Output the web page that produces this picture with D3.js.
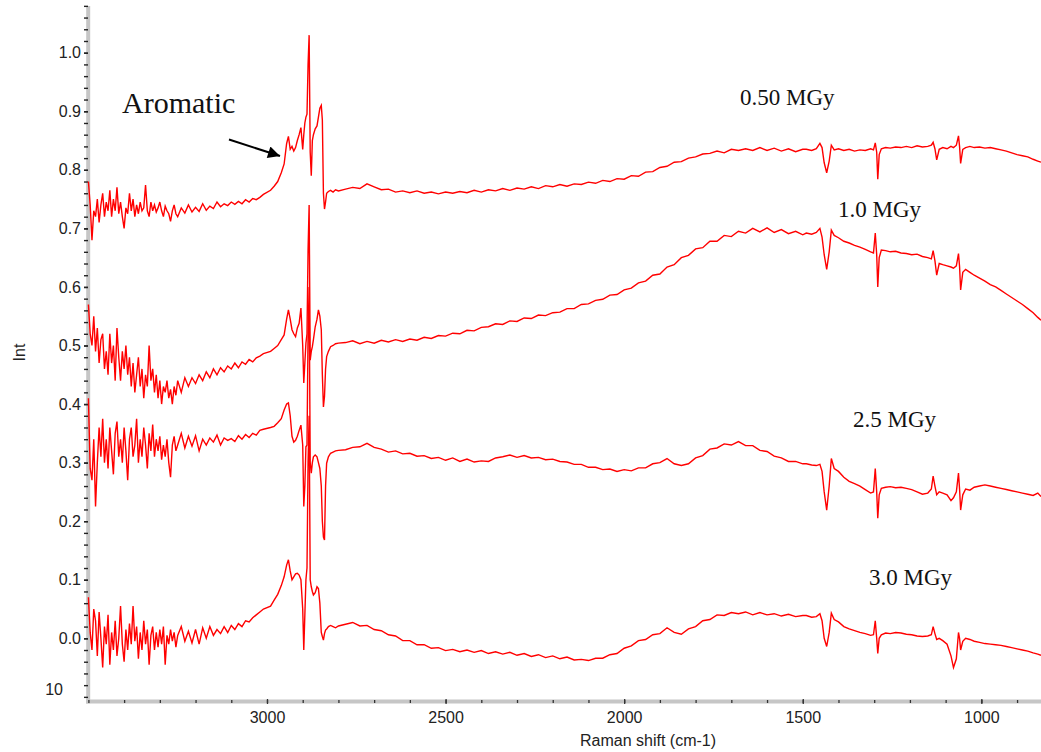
<!DOCTYPE html>
<html><head><meta charset="utf-8">
<script src="https://cdn.jsdelivr.net/npm/d3@7"></script>
<style>body{margin:0;background:#fff;} svg{display:block;}</style>
</head><body><svg id="c" width="1041" height="752"></svg>
<script>
// Raman shift (cm-1), shared by all four spectra
const wavenumbers = [
 3500,3495,3490,3485,3480,3475,3470,3465,3460,3455,3450,3445,3440,3435,3430,3425,3420,3415,3410,3405,
 3400,3395,3390,3385,3380,3375,3370,3365,3360,3355,3350,3345,3340,3335,3330,3325,3320,3315,3310,3305,
 3300,3295,3290,3285,3280,3275,3270,3265,3260,3255,3250,
 3240,3230,3220,3210,3200,3190,3180,3170,3160,3150,3140,3130,3120,3110,3100,3090,3080,3070,3060,3050,
 3040,3030,3020,3010,
 2990,2980,2970,2960,2952,2945,2940,2935,2930,2925,2920,2915,2910,2905,2900,2897,2894,2891,2888,2885,
 2882,2879,2876,2873,2870,2865,2860,2856,2852,2848,2845,2842,2839,2836,2833,2828,2822,2815,2808,2800,
 2780,2760,2740,2720,2700,2680,2660,2640,2620,2600,2580,2560,2540,2520,2500,2480,2460,2440,2420,2400,
 2380,2360,2340,2320,2300,2280,2260,2240,2220,2200,2180,2160,2140,2120,2100,2080,2060,2040,2020,2000,
 1980,1960,1940,1920,1900,1880,1860,1840,1820,1800,1780,1760,1740,1720,1700,1680,1660,1640,1620,1600,
 1580,1560,1540,1520,1500,
 1490,1475,1462,1452,1446,1440,1433,1426,1420,1412,1400,1385,1370,1355,1340,1325,1310,1302,1297,1293,
 1290,1286,1280,1268,1255,1240,1225,1210,1195,1180,1165,1150,1140,1135,1130,1125,1118,1108,1096,1085,
 1078,1070,1064,1061,1058,1052,1044,1032,1020,1005,990,975,960,945,930,915,900,885,870,855,
 842,833
];

// 0.50 MGy
const int050 = [
 0.78,0.74,0.68,0.73,0.72,0.75,0.71,0.74,0.76,0.72,0.745,0.73,0.765,0.72,0.75,0.73,0.77,0.725,0.745,0.72,
 0.70,0.735,0.725,0.76,0.73,0.75,0.72,0.74,0.725,0.745,0.73,0.735,0.774,0.73,0.72,0.745,0.73,0.74,0.728,0.735,
 0.745,0.73,0.72,0.738,0.73,0.725,0.712,0.73,0.74,0.725,0.72,
 0.735,0.726,0.74,0.728,0.736,0.729,0.742,0.731,0.738,0.734,0.745,0.737,0.742,0.739,0.745,0.741,0.746,0.742,0.749,0.745,
 0.751,0.749,0.753,0.758,
 0.765,0.772,0.78,0.795,0.81,0.845,0.857,0.835,0.84,0.832,0.838,0.85,0.86,0.872,0.835,0.86,0.88,0.89,0.895,0.98,
 1.03,0.83,0.79,0.85,0.86,0.87,0.875,0.89,0.905,0.91,0.885,0.76,0.733,0.745,0.76,0.763,0.765,0.762,0.766,0.764,
 0.767,0.770,0.768,0.776,0.771,0.766,0.767,0.762,0.764,0.761,0.764,0.760,0.762,0.759,0.762,0.760,0.763,0.761,0.765,0.762,
 0.766,0.764,0.768,0.765,0.769,0.767,0.771,0.768,0.773,0.771,0.775,0.772,0.776,0.775,0.779,0.777,0.782,0.780,0.785,0.784,
 0.79,0.789,0.796,0.797,0.804,0.806,0.813,0.814,0.82,0.822,0.827,0.828,0.832,0.829,0.835,0.833,0.836,0.833,0.838,0.833,
 0.837,0.832,0.836,0.831,0.835,
 0.835,0.833,0.836,0.845,0.838,0.812,0.795,0.815,0.842,0.834,0.836,0.833,0.835,0.832,0.834,0.833,0.836,0.834,0.846,0.83,
 0.784,0.826,0.836,0.838,0.837,0.839,0.838,0.84,0.838,0.841,0.839,0.84,0.842,0.847,0.836,0.817,0.835,0.838,0.836,0.84,
 0.838,0.842,0.858,0.84,0.811,0.835,0.838,0.84,0.838,0.839,0.837,0.838,0.836,0.834,0.832,0.829,0.826,0.824,0.822,0.818,
 0.815,0.813
];

// 1.0 MGy
const int10 = [
 0.57,0.52,0.50,0.55,0.49,0.53,0.47,0.51,0.52,0.46,0.49,0.45,0.52,0.47,0.50,0.44,0.53,0.48,0.44,0.49,
 0.46,0.50,0.45,0.48,0.43,0.47,0.42,0.45,0.48,0.43,0.46,0.41,0.45,0.43,0.50,0.44,0.46,0.42,0.45,0.41,
 0.44,0.40,0.43,0.42,0.44,0.41,0.425,0.40,0.43,0.415,0.44,
 0.42,0.445,0.43,0.445,0.435,0.45,0.44,0.455,0.445,0.46,0.45,0.462,0.455,0.465,0.46,0.47,0.462,0.472,0.468,0.476,
 0.472,0.479,0.482,0.486,
 0.49,0.495,0.50,0.51,0.518,0.545,0.561,0.545,0.527,0.52,0.515,0.53,0.538,0.564,0.50,0.436,0.47,0.504,0.52,0.663,
 0.74,0.475,0.49,0.498,0.51,0.532,0.545,0.561,0.55,0.527,0.45,0.395,0.413,0.46,0.481,0.49,0.498,0.50,0.503,0.504,
 0.505,0.508,0.503,0.507,0.504,0.509,0.506,0.51,0.507,0.511,0.509,0.514,0.512,0.517,0.516,0.521,0.52,0.526,0.525,0.531,
 0.532,0.537,0.536,0.542,0.541,0.547,0.546,0.552,0.551,0.556,0.557,0.563,0.563,0.57,0.571,0.577,0.579,0.586,0.587,0.595,
 0.598,0.607,0.61,0.62,0.622,0.634,0.638,0.65,0.654,0.665,0.667,0.678,0.678,0.688,0.686,0.695,0.692,0.7,0.694,0.701,
 0.693,0.698,0.691,0.695,0.689,
 0.692,0.69,0.693,0.70,0.685,0.655,0.63,0.66,0.697,0.688,0.684,0.678,0.675,0.671,0.668,0.664,0.66,0.658,0.692,0.655,
 0.60,0.65,0.663,0.662,0.66,0.661,0.658,0.657,0.655,0.656,0.652,0.65,0.648,0.662,0.645,0.62,0.64,0.638,0.636,0.634,
 0.632,0.636,0.657,0.635,0.595,0.625,0.63,0.625,0.62,0.615,0.61,0.604,0.6,0.594,0.588,0.582,0.576,0.57,0.563,0.556,
 0.548,0.543
];

// 2.5 MGy
const int25 = [
 0.41,0.29,0.27,0.34,0.225,0.30,0.36,0.31,0.375,0.30,0.34,0.29,0.36,0.32,0.28,0.35,0.37,0.31,0.34,0.30,
 0.36,0.32,0.27,0.34,0.36,0.31,0.33,0.375,0.30,0.34,0.31,0.36,0.33,0.29,0.35,0.32,0.365,0.31,0.34,0.32,
 0.345,0.305,0.33,0.31,0.34,0.30,0.275,0.33,0.345,0.32,0.33,
 0.35,0.325,0.345,0.328,0.346,0.32,0.34,0.33,0.342,0.335,0.347,0.33,0.342,0.338,0.341,0.336,0.346,0.34,0.348,0.343,
 0.35,0.347,0.355,0.357,
 0.36,0.362,0.368,0.375,0.39,0.40,0.402,0.38,0.345,0.335,0.338,0.345,0.355,0.364,0.33,0.225,0.26,0.327,0.33,0.52,
 0.60,0.30,0.282,0.30,0.31,0.313,0.31,0.30,0.29,0.26,0.20,0.173,0.168,0.26,0.299,0.31,0.316,0.318,0.32,0.321,
 0.322,0.326,0.327,0.333,0.326,0.323,0.318,0.32,0.315,0.316,0.311,0.312,0.307,0.309,0.304,0.308,0.302,0.306,0.301,0.303,
 0.302,0.308,0.31,0.313,0.309,0.312,0.308,0.309,0.305,0.306,0.302,0.301,0.297,0.297,0.292,0.292,0.288,0.289,0.285,0.288,
 0.286,0.291,0.291,0.298,0.3,0.307,0.298,0.295,0.298,0.308,0.312,0.323,0.325,0.332,0.33,0.336,0.329,0.329,0.321,0.319,
 0.311,0.308,0.302,0.302,0.298,
 0.298,0.296,0.295,0.297,0.285,0.25,0.219,0.26,0.307,0.29,0.285,0.275,0.268,0.264,0.26,0.254,0.248,0.25,0.29,0.25,
 0.205,0.245,0.256,0.258,0.259,0.257,0.258,0.256,0.254,0.25,0.246,0.248,0.255,0.277,0.26,0.245,0.25,0.248,0.245,0.235,
 0.24,0.25,0.282,0.255,0.219,0.245,0.255,0.253,0.258,0.26,0.262,0.26,0.258,0.256,0.254,0.252,0.25,0.248,0.246,0.244,
 0.248,0.242
];

// 3.0 MGy
const int30 = [
 0.07,0.01,-0.02,0.05,0.03,-0.03,0.045,0.0,-0.05,0.02,-0.01,0.04,-0.045,0.01,-0.02,0.03,-0.03,0.0,0.055,-0.01,
 -0.04,0.015,-0.02,0.025,-0.01,0.055,-0.005,0.02,-0.035,0.01,-0.02,0.03,-0.01,0.015,-0.045,0.005,0.02,-0.02,0.01,-0.015,
 0.015,-0.01,0.02,-0.045,0.005,-0.01,0.015,-0.005,0.01,-0.015,0.005,
 0.02,-0.005,0.012,-0.008,0.015,-0.01,0.018,0.0,0.02,0.005,0.015,0.008,0.02,0.01,0.022,0.015,0.025,0.02,0.03,0.028,
 0.035,0.04,0.045,0.05,
 0.055,0.065,0.075,0.09,0.105,0.125,0.134,0.115,0.10,0.105,0.11,0.111,0.108,0.10,0.05,-0.02,0.04,0.10,0.12,0.30,
 0.38,0.10,0.088,0.08,0.074,0.078,0.088,0.085,0.06,0.01,0.003,-0.003,0.008,0.014,0.016,0.02,0.022,0.02,0.018,0.021,
 0.024,0.027,0.021,0.022,0.015,0.013,0.006,0.004,-0.004,-0.004,-0.011,-0.011,-0.017,-0.016,-0.021,-0.019,-0.023,-0.02,-0.024,-0.021,
 -0.026,-0.023,-0.027,-0.024,-0.029,-0.026,-0.031,-0.028,-0.033,-0.03,-0.035,-0.032,-0.037,-0.036,-0.038,-0.034,-0.034,-0.028,-0.026,-0.017,
 -0.013,-0.004,-0.002,0.006,0.008,0.018,0.01,0.007,0.016,0.02,0.03,0.032,0.04,0.039,0.044,0.042,0.045,0.04,0.044,0.04,
 0.042,0.038,0.041,0.037,0.039,
 0.039,0.036,0.037,0.042,0.03,0.0,-0.014,0.01,0.043,0.032,0.028,0.02,0.016,0.013,0.01,0.008,0.005,0.006,0.03,0.0,
 -0.026,0.0,0.006,0.009,0.008,0.01,0.009,0.007,0.006,0.004,0.003,0.004,0.006,0.02,0.008,-0.002,0.0,-0.004,-0.01,-0.03,
 -0.05,-0.035,0.01,0.0,-0.02,-0.005,0.0,-0.002,-0.005,-0.007,-0.009,-0.01,-0.011,-0.012,-0.014,-0.016,-0.018,-0.02,-0.022,-0.025,
 -0.027,-0.029
];

const seriesValues = [int050, int10, int25, int30];
const seriesNames = ["0.50 MGy", "1.0 MGy", "2.5 MGy", "3.0 MGy"];
const yTickValues = [0.0, 0.1, 0.2, 0.3, 0.4, 0.5, 0.6, 0.7, 0.8, 0.9, 1.0];
const xTickValues = [3000, 2500, 2000, 1500, 1000];
const extraYLabel = "10";
const xTitle = "Raman shift (cm-1)";
const yTitle = "Int";
const noteText = "Aromatic";

const svg = d3.select("#c");
const sans = "'Liberation Sans', Arial, sans-serif";
const serif = "'Liberation Serif', 'Times New Roman', serif";

const x = d3.scaleLinear().domain([3500, 833]).range([88.4, 1041]);
const y = d3.scaleLinear().domain([0, 1]).range([638.3, 52.7]);

// axis bars
svg.append("line").attr("x1", 88.2).attr("x2", 88.2).attr("y1", 6).attr("y2", 703.5)
  .attr("stroke", "#c6c6c6").attr("stroke-width", 4);
svg.append("line").attr("x1", 86).attr("x2", 1041).attr("y1", 701.5).attr("y2", 701.5)
  .attr("stroke", "#c6c6c6").attr("stroke-width", 4);

// y minor ticks
const yMinor = d3.range(-5, 55).map(i => i * 0.02).filter(v => v <= 1.081);
const gyMinor = svg.append("g").attr("transform", "translate(88,0)")
  .call(d3.axisLeft(y).tickValues(yMinor).tickSize(4).tickFormat(""));
gyMinor.select(".domain").remove();
gyMinor.selectAll("line").attr("stroke", "#222").attr("stroke-width", 1.4);

const gy = svg.append("g").attr("transform", "translate(88,0)")
  .call(d3.axisLeft(y).tickValues(yTickValues).tickSize(4).tickPadding(3).tickFormat(d3.format(".1f")));
gy.select(".domain").remove();
gy.selectAll("line").attr("stroke", "#222").attr("stroke-width", 1.4);
gy.selectAll("text").attr("font-family", sans).attr("font-size", 16).attr("fill", "#222");

svg.append("text").attr("x", 63).attr("y", 695).attr("text-anchor", "end")
  .attr("font-family", sans).attr("font-size", 16).attr("fill", "#222").text(extraYLabel);

// x ticks
const xMinor = d3.range(35, 8, -1).map(i => i * 100);
const gxMinor = svg.append("g").attr("transform", "translate(0,700)")
  .call(d3.axisBottom(x).tickValues(xMinor).tickSize(3).tickFormat(""));
gxMinor.select(".domain").remove();
gxMinor.selectAll("line").attr("stroke", "#333").attr("stroke-width", 1.3);

const gx = svg.append("g").attr("transform", "translate(0,699)")
  .call(d3.axisBottom(x).tickValues(xTickValues).tickSize(5).tickFormat(d3.format("d")));
gx.select(".domain").remove();
gx.selectAll("line").attr("stroke", "#333").attr("stroke-width", 1.3);
gx.selectAll("text").attr("y", 23.5).attr("dy", 0)
  .attr("font-family", sans).attr("font-size", 16).attr("fill", "#222");

// titles
svg.append("text").attr("x", 648).attr("y", 746).attr("text-anchor", "middle")
  .attr("font-family", sans).attr("font-size", 16).attr("fill", "#222").text(xTitle);
svg.append("text").attr("transform", "translate(25,352.5) rotate(-90)").attr("text-anchor", "middle")
  .attr("font-family", sans).attr("font-size", 16).attr("fill", "#222").text(yTitle);

// spectra
const line = d3.line().x(d => x(d[0])).y(d => y(d[1]));
seriesValues.forEach(vals => {
  const pts = wavenumbers.map((w, i) => [w, vals[i]]);
  svg.append("path").datum(pts).attr("d", line)
    .attr("fill", "none").attr("stroke", "#ff0000").attr("stroke-width", 1.4)
    .attr("stroke-linejoin", "miter");
});

// series labels
const labelPos = [[740, 105], [838, 217], [853, 427], [869, 585]];
seriesNames.forEach((n, i) => {
  svg.append("text").attr("x", labelPos[i][0]).attr("y", labelPos[i][1])
    .attr("font-family", serif).attr("font-size", 23).attr("fill", "#111").text(n);
});

// Aromatic note with arrow
svg.append("text").attr("x", 122).attr("y", 113).attr("font-family", serif)
  .attr("font-size", 30).attr("fill", "#111").text(noteText);
const defs = svg.append("defs");
defs.append("marker").attr("id", "ah").attr("viewBox", "0 0 10 10").attr("refX", 10).attr("refY", 5)
  .attr("markerWidth", 7).attr("markerHeight", 6).attr("markerUnits", "strokeWidth").attr("orient", "auto")
  .append("path").attr("d", "M0,0 L10,5 L0,10 z").attr("fill", "#000");
svg.append("line").attr("x1", 229).attr("y1", 139.5).attr("x2", 280).attr("y2", 156)
  .attr("stroke", "#000").attr("stroke-width", 2).attr("marker-end", "url(#ah)");
</script>
</body></html>
